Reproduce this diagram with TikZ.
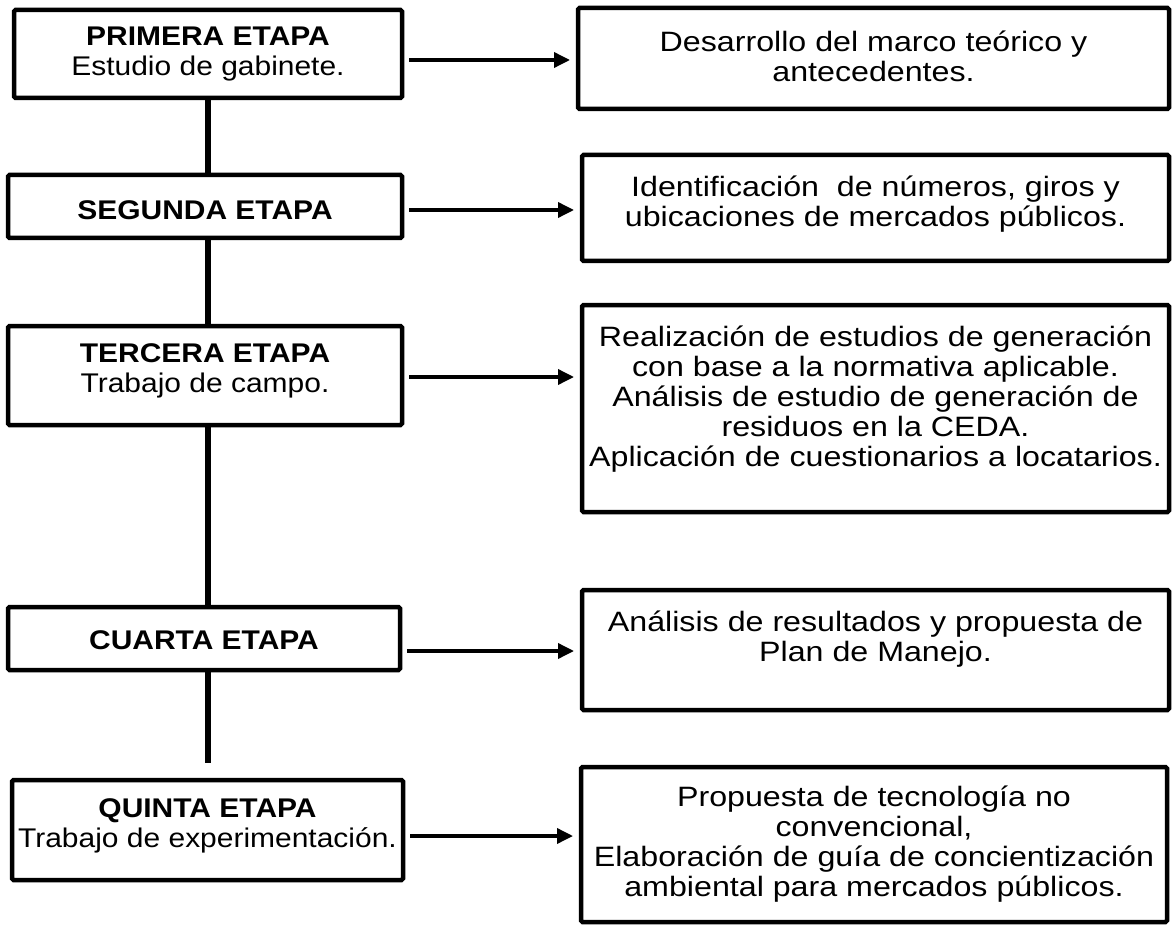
\documentclass[tikz,border=0pt]{standalone}
\usepackage{fontspec}
\setmainfont{Liberation Sans}[FakeStretch=1.11]
\newfontfamily\rfont{Liberation Sans}[FakeStretch=1.15]
\usetikzlibrary{arrows.meta}
\begin{document}
\begin{tikzpicture}[x=1pt,y=-1pt,
  box/.style={draw=black, line width=4.5pt, rounded corners=1.5pt, inner sep=0pt, outer sep=0pt, fill=white},
  ltxt/.style={align=center, font=\fontsize{27}{30.5}\selectfont, inner sep=0pt},
  rtxt/.style={align=center, font=\rfont\fontsize{28}{30}\selectfont, inner sep=0pt},
  spine/.style={line width=6.5pt},
  arr/.style={line width=3.5pt, -{Triangle[length=16pt,width=15pt]}, shorten <=7pt, shorten >=8pt}]
\useasboundingbox (0,0) rectangle (1173,928);
\coordinate (sp) at (208,0);
\coordinate (y1) at (0,60);
\coordinate (y2) at (0,210);
\coordinate (y3) at (0,377);
\coordinate (y4) at (0,651);
\coordinate (y5) at (0,836);
\coordinate (q5top) at (208,763);

% left boxes
\node[box, minimum width=388pt, minimum height=88pt] (P1) at (208,54) {};
\node[box, minimum width=394pt, minimum height=63pt] (P2) at (205,206.5) {};
\node[box, minimum width=394pt, minimum height=99pt] (P3) at (205,375.5) {};
\node[box, minimum width=392pt, minimum height=63pt] (P4) at (204,638.5) {};
\node[box, minimum width=391pt, minimum height=100pt] (P5) at (207.5,830) {};

% right boxes
\node[box, minimum width=591pt, minimum height=101pt] (R1) at (873.5,58.5) {};
\node[box, minimum width=587pt, minimum height=106pt] (R2) at (875.5,208) {};
\node[box, minimum width=587pt, minimum height=207pt] (R3) at (875.5,408.5) {};
\node[box, minimum width=587pt, minimum height=120pt] (R4) at (875.5,650) {};
\node[box, minimum width=586pt, minimum height=155pt] (R5) at (874,844.5) {};

% vertical connectors
\draw[spine] (P1.south -| sp) -- (P2.north -| sp);
\draw[spine] (P2.south -| sp) -- (P3.north -| sp);
\draw[spine] (P3.south -| sp) -- (P4.north -| sp);
\draw[spine] (P4.south -| sp) -- (q5top);

% arrows
\draw[arr] (P1.east |- y1) -- (R1.west |- y1);
\draw[arr] (P2.east |- y2) -- (R2.west |- y2);
\draw[arr] (P3.east |- y3) -- (R3.west |- y3);
\draw[arr] (P4.east |- y4) -- (R4.west |- y4);
\draw[arr] (P5.east |- y5) -- (R5.west |- y5);

% left texts
\node[ltxt] (P1t) at (208,54) {\textbf{PRIMERA ETAPA}\\Estudio de gabinete.};
\node[ltxt] (P2t) at (205,210) {\textbf{SEGUNDA ETAPA}};
\node[ltxt] (P3t) at (205,371) {\textbf{TERCERA ETAPA}\\Trabajo de campo.};
\node[ltxt] (P4t) at (204,640) {\textbf{CUARTA ETAPA}};
\node[ltxt] (P5t) at (207.5,826) {\textbf{QUINTA ETAPA}\\Trabajo de experimentación.};

% right texts
\node[rtxt] (R1t) at (873.5,56) {Desarrollo del marco teórico y\\antecedentes.};
\node[rtxt] (R2t) at (875.5,204) {Identificación \ de números, giros y\\ubicaciones de mercados públicos.};
\node[rtxt] (R3t) at (875.5,399) {Realización de estudios de generación\\con base a la normativa aplicable.\\Análisis de estudio de generación de\\residuos en la CEDA.\\Aplicación de cuestionarios a locatarios.};
\node[rtxt] (R4t) at (875.5,639) {Análisis de resultados y propuesta de\\Plan de Manejo.};
\node[rtxt] (R5t) at (874,844) {Propuesta de tecnología no\\convencional,\\Elaboración de guía de concientización\\ambiental para mercados públicos.};
\end{tikzpicture}
\end{document}
